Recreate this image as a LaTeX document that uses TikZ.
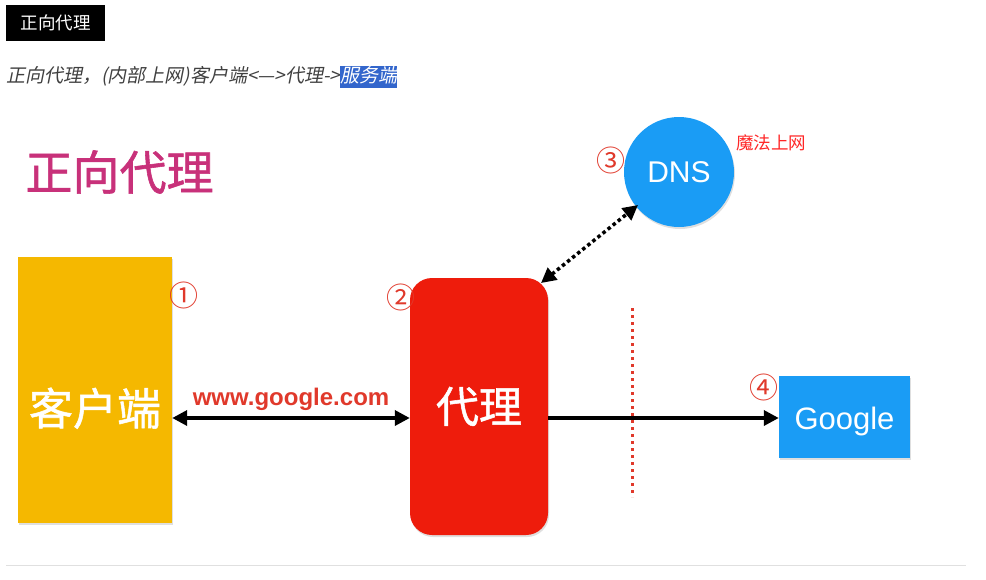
\documentclass[tikz,border=0pt]{standalone}
\usepackage{fontspec}
\setmainfont{Liberation Sans}
\newfontfamily\cjk{Noto Sans CJK SC}
\newfontfamily\cjkmid[FakeBold=1.2]{Noto Sans CJK SC}
\newfontfamily\cjkit[FakeSlant=0.2]{Noto Sans CJK SC}
\usetikzlibrary{shadows,arrows.meta}
\definecolor{clientyellow}{HTML}{F5B800}
\definecolor{proxyred}{HTML}{EE1C0C}
\definecolor{dnsblue}{HTML}{1A9CF5}
\definecolor{titlepink}{HTML}{C8317A}
\definecolor{markblue}{HTML}{3366CC}
\definecolor{numred}{HTML}{E0392B}
\tikzset{
  box/.style={inner sep=0pt, text=white, drop shadow={opacity=0.25, shadow xshift=1pt, shadow yshift=-2pt}},
  num/.style={text=numred, font=\cjk\fontsize{29}{29}\selectfont},
  link/.style={line width=3.5pt, >={Triangle[length=15pt,width=15pt]}}
}
\begin{document}
\begin{tikzpicture}[x=1pt, y=-1pt]
  \useasboundingbox (0,0) rectangle (986,579);
  % header
  \node[fill=black, text=white, minimum width=99pt, minimum height=36pt, inner sep=0pt,
    font=\cjk\fontsize{17.5}{17.5}\selectfont] (tag) at (55.5,23) {正向代理};
  \node[anchor=west, inner sep=0pt, text=black!75, font=\cjkit\fontsize{19}{19}\selectfont]
    (line) at (6,77) {正向代理，(内部上网)客户端<—>代理->\setlength{\fboxsep}{0pt}\colorbox{markblue}{\textcolor{white}{\strut 服务端}}};
  % picture
  \node[anchor=west, text=titlepink, font=\cjkmid\fontsize{47}{47}\selectfont] (title) at (22,172) {正向代理};
  \node[box, fill=clientyellow, minimum width=154pt, minimum height=266pt,
    font=\cjkmid\fontsize{44}{44}\selectfont] (client) at (95,390) {\raisebox{-35pt}[0pt][0pt]{客户端}};
  \node[box, fill=proxyred, rounded corners=22pt, minimum width=138pt, minimum height=257pt,
    font=\cjkmid\fontsize{43}{43}\selectfont] (proxy) at (479,406.5) {代理};
  \node[box, fill=dnsblue, circle, minimum size=110pt, font=\fontsize{30}{30}\selectfont] (dns) at (679,172) {DNS};
  \node[box, fill=dnsblue, minimum width=131pt, minimum height=82pt,
    font=\fontsize{31}{31}\selectfont] (google) at (844.5,417) {\raisebox{-12pt}[0pt][0pt]{Google}};
  % numbers
  \node[num] (n1) at (184,295) {①};
  \node[num] (n2) at (401,297) {②};
  \node[num] (n3) at (611,160) {③};
  \node[num] (n4) at (764,387) {④};
  \node[text=red!85!white, font=\cjk\fontsize{17.5}{17.5}\selectfont] (magic) at (771,143) {魔法上网};
  % connectors
  \coordinate (c1) at (client.east |- 0,418);
  \coordinate (p1) at (proxy.west |- 0,418);
  \coordinate (p2) at (proxy.east |- 0,418);
  \coordinate (g1) at (google.west |- 0,418);
  \draw[link, <->] (c1) -- node[above=2pt, text=numred, font=\bfseries\fontsize{24}{24}\selectfont] (url) {www.google.com} (p1);
  \draw[link, ->] (p2) -- (g1);
  \coordinate (p3) at (541,283);
  \coordinate (d1) at (638,205);
  \draw[link, <->, line width=3.5pt, dash pattern=on 3.5pt off 3pt] (p3) -- (d1);
  \coordinate (w1) at (632,308);
  \coordinate (w2) at (632,497);
  \draw[numred, line width=3pt, dash pattern=on 3pt off 4pt] (w1) -- (w2);
  % bottom rule
  \coordinate (r1) at (6,565);
  \coordinate (r2) at (966,565);
  \draw[black!12] (r1) -- (r2);
\end{tikzpicture}
\end{document}
